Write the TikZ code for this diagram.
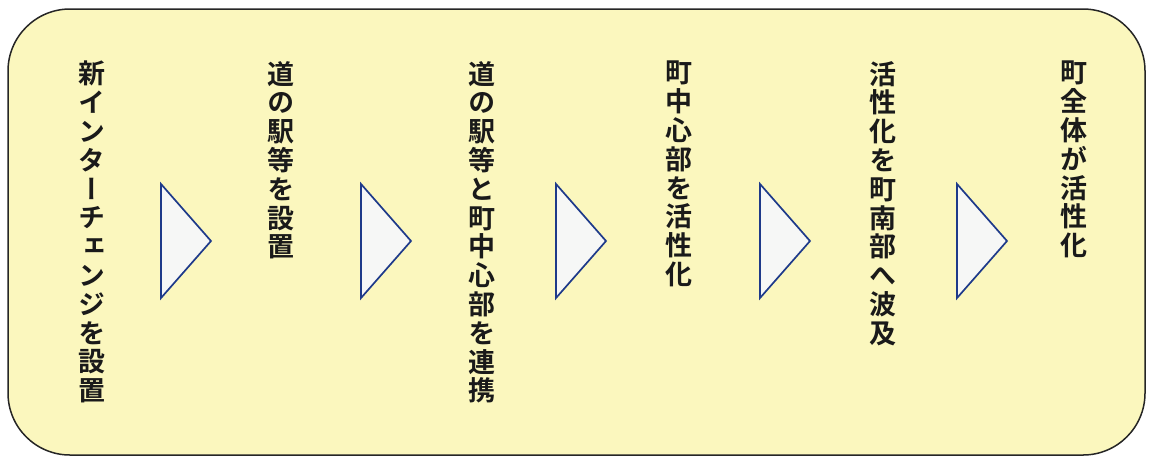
\documentclass[tikz,border=0pt]{standalone}
\usepackage{fontspec}
\newfontfamily\cjk[RawFeature={+vert}]{Noto Sans CJK JP Bold}
\definecolor{panel}{HTML}{FBF7BE}
\definecolor{triline}{HTML}{1E3A8A}
\definecolor{trifill}{HTML}{F6F7F6}
\definecolor{ink}{HTML}{1A1A1A}
\begin{document}
\begin{tikzpicture}[x=1pt,y=-1pt,
  vtext/.style={anchor=north,align=center,inner sep=0pt,text=ink,
    font=\cjk\fontsize{27}{28.8}\selectfont},
  tri/.style={draw=triline,fill=trifill,line width=1.7pt,line join=miter}]
\useasboundingbox (0,0) rectangle (1150,459);
\fill[white] (0,0) rectangle (1150,459);
\draw[fill=panel,draw=black!85,line width=1.5pt,rounded corners=62pt] (8,9) rectangle (1145,455);
\node[vtext] (c1) at (92,61) {新\\イ\\ン\\タ\\ー\\チ\\ェ\\ン\\ジ\\を\\設\\置};
\node[vtext] (c2) at (281,61) {道\\の\\駅\\等\\を\\設\\置};
\node[vtext] (c3) at (482,61) {道\\の\\駅\\等\\と\\町\\中\\心\\部\\を\\連\\携};
\node[vtext] (c4) at (679,61) {町\\中\\心\\部\\を\\活\\性\\化};
\node[vtext] (c5) at (883,61) {活\\性\\化\\を\\町\\南\\部\\へ\\波\\及};
\node[vtext] (c6) at (1074,61) {町\\全\\体\\が\\活\\性\\化};
\foreach \x/\n in {161/t1,361/t2,556/t3,760/t4,957/t5}{
  \draw[tri] (\x,184) coordinate (\n a) -- (\x+50,241) coordinate (\n tip) -- (\x,298) coordinate (\n b) -- cycle;
}
\end{tikzpicture}
\end{document}
